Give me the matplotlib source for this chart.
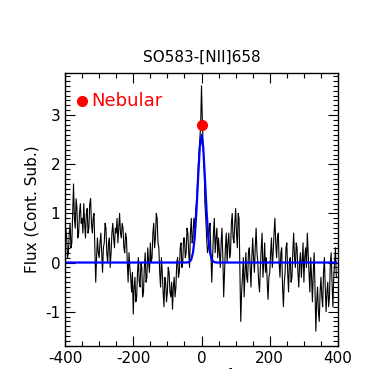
import numpy as np
import matplotlib.pyplot as plt
from matplotlib.ticker import MultipleLocator

plt.rcParams['axes.unicode_minus'] = False

# -----------------
# DATA
# -----------------
# velocity grid of the spectrum (km/s), 2.5 km/s steps from -400 to 395
velocity = np.arange(-400, 397.5, 2.5)

# continuum-subtracted flux (one row = 50 km/s)
flux = [
    0.3, 0.7, 0.5, 0.1, 0.2, 0.6, 0.8, 0.3, 0.4, 1.0, 1.6, 0.9, 0.7, 1.3, 1.1, 0.5, 0.6, 1.0, 1.2, 0.8,
    0.9, 0.6, 1.2, 0.8, 0.5, 1.0, 1.1, 0.6, 0.7, 1.2, 1.3, 0.8, 0.6, 0.9, 1.0, 0.3, -0.4, 0.1, 0.5, 0.2,
    0.1, 0.4, 0.6, 0.2, -0.2, 0.3, 0.4, 0.8, 0.7, 0.2, 0.0, 0.4, 0.5, -0.1, 0.2, 0.6, 0.8, 0.5, 0.3, 0.7,
    0.6, 0.9, 0.4, 0.7, 1.0, 0.6, 0.5, 0.8, 0.7, 0.3, 0.2, 0.6, 0.5, 0.0, -0.4, 0.2, -0.1, -0.3, -0.6, -0.2,
    -1.05, -0.5, -0.3, -0.8, -0.7, -0.2, 0.1, -0.4, -0.5, 0.0, -0.1, -0.7, -0.6, -0.1, 0.2, -0.4, -0.3, 0.3, 0.0, -0.2,
    0.4, 0.0, 0.1, 0.6, 0.8, 0.3, 0.5, 1.0, 0.9, 0.4, 0.3, -0.2, -0.5, 0.1, -0.2, -0.6, -0.9, -0.3, -0.4, -0.8,
    -0.6, -0.1, -0.2, -0.6, -0.7, -0.4, -0.95, -0.5, -0.3, -0.7, -0.5, 0.0, 0.1, -0.3, -0.2, 0.3, 0.4, -0.1, 0.0, 0.5,
    0.5, 0.1, 0.2, 0.7, 0.6, 0.2, -0.1, 0.6, 0.9, 0.4, 0.5, 0.9, 0.7, 1.0, 1.2, 1.5, 1.9, 2.2, 2.5, 2.8,
    3.6, 2.9, 2.3, 2.1, 1.2, 0.9, 0.5, 0.2, 0.3, 0.7, 0.8, 0.2, -0.4, 0.1, 0.6, 0.9, 0.2, 0.5, 0.7, 0.1,
    0.5, 0.2, -0.1, 0.4, 0.7, 0.1, -0.7, -0.2, 0.3, 0.6, 0.0, 0.4, 0.6, 0.1, 0.2, 0.8, 1.0, 0.5, 0.4, 0.8,
    1.1, 0.6, 0.3, 1.0, 0.9, -0.2, -1.2, -0.6, -0.3, 0.1, -0.7, -0.2, 0.2, -0.3, -0.4, 0.2, 0.3, -0.1, -0.5, 0.1,
    0.5, 0.1, -0.2, 0.3, 0.7, 0.2, 0.0, -0.4, -0.6, -0.1, 0.3, 0.6, -0.3, 0.0, 0.4, -0.2, 0.1, -0.4, -0.75, -0.3,
    -0.2, 0.2, 0.5, -0.1, 0.2, 0.6, 0.9, 0.4, 0.1, 0.5, 0.6, 0.0, -0.3, 0.2, 0.3, -0.5, -0.9, -0.4, -0.2, 0.3,
    0.4, -0.2, -0.6, 0.0, 0.1, -0.4, -0.3, 0.2, 0.6, 0.1, -0.1, 0.4, 0.3, -0.2, -0.5, 0.0, 0.2, -0.3, 0.0, 0.4,
    -0.4, 0.1, 0.3, -0.1, 0.6, 0.2, -0.2, -0.6, 0.1, -0.3, -0.8, -0.2, 0.2, -0.5, -1.4, -0.8, -0.5, -1.0, -1.2, -0.6,
    -0.3, -0.7, -0.9, -0.2, 0.1, -0.5, -1.0, -0.6, -0.4, -0.9, -0.7, 0.0, 0.2, -0.4, -0.9, -0.3, 0.0, 0.3, -0.3,
]

# fitted line profile (blue), sampled values
fit_velocity = [-400, -45, -40, -35, -30, -25, -20, -15, -10, -5, 0,
                5, 10, 15, 20, 25, 30, 35, 40, 45, 395]
fit_flux = [0.0, 0.0, 0.004, 0.016, 0.063, 0.20, 0.50, 1.03, 1.72, 2.35, 2.6,
            2.35, 1.72, 1.03, 0.50, 0.20, 0.063, 0.016, 0.004, 0.0, 0.0]

# nebular component marker
neb_velocity = [0.0]
neb_flux = [2.8]

# -----------------
# PLOT
# -----------------
fig = plt.figure(figsize=(3.77, 3.69), dpi=100)
ax = fig.add_axes([0.1724, 0.0623, 0.7242, 0.7399])

ax.plot(velocity, flux, color='black', lw=0.8)
ax.plot(fit_velocity, fit_flux, color='blue', lw=1.6)
ax.plot(neb_velocity, neb_flux, 'o', color='red', ms=7, zorder=5)

# legend-like label
ax.plot([0.062], [0.897], 'o', color='red', ms=7, transform=ax.transAxes, clip_on=False)
ax.text(0.095, 0.897, 'Nebular', color='red', fontsize=13,
        transform=ax.transAxes, va='center', ha='left')

ax.set_xlim(-400, 400)
ax.set_ylim(-1.7, 3.86)
ax.xaxis.set_major_locator(MultipleLocator(200))
ax.xaxis.set_minor_locator(MultipleLocator(50))
ax.yaxis.set_major_locator(MultipleLocator(1))
ax.yaxis.set_minor_locator(MultipleLocator(0.1))
ax.tick_params(which='both', direction='in', top=True, right=True, labelsize=11, width=0.8)
ax.tick_params(which='major', length=7)
ax.tick_params(which='minor', length=3.5)
for sp in ax.spines.values():
    sp.set_linewidth(1.0)

ax.set_title('SO583-[NII]658', fontsize=11, pad=8)
ax.set_ylabel('Flux (Cont. Sub.)', fontsize=11)
# x label sits mostly below the canvas, as in the original
ax.set_xlabel('v (km s$^{-1}$)', fontsize=11, labelpad=0)

plt.savefig('out.png', dpi=100)
